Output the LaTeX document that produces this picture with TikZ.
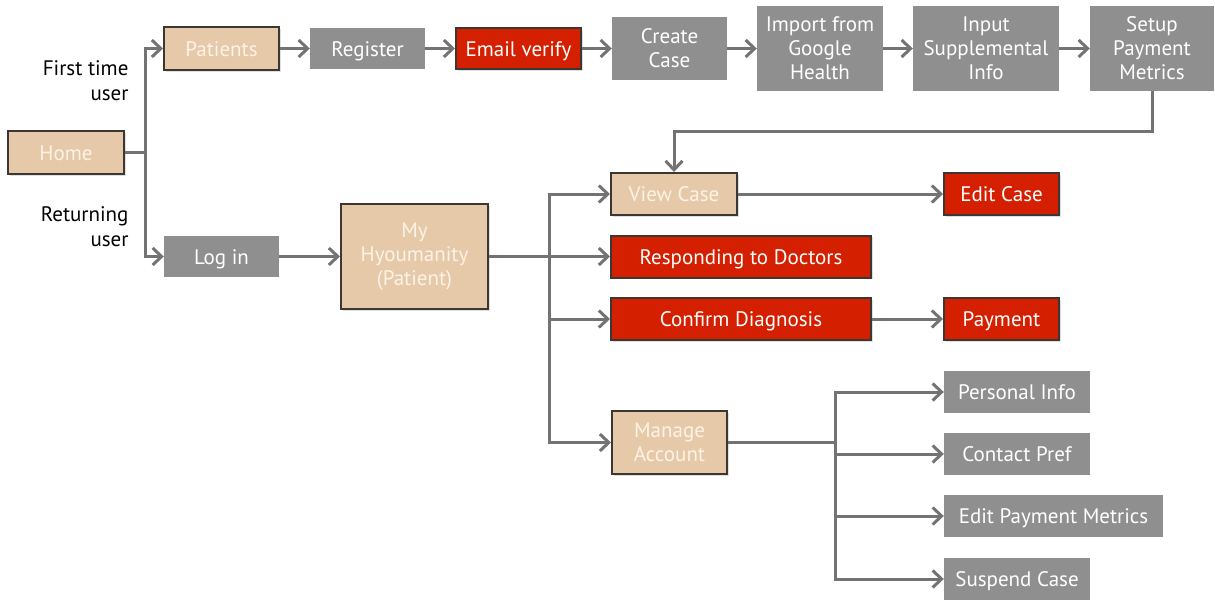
\documentclass[tikz,border=0pt]{standalone}
\usepackage{fontspec}
\setmainfont{PT Sans}
\usetikzlibrary{arrows.meta,shadows}
\definecolor{tanfill}{RGB}{230,201,168}
\definecolor{tantext}{RGB}{252,242,230}
\definecolor{redfill}{RGB}{212,32,0}
\definecolor{grayfill}{RGB}{143,143,143}
\definecolor{linegray}{RGB}{115,115,115}
\definecolor{edgedark}{RGB}{60,55,50}
\tikzset{
  base/.style={rectangle, inner sep=2pt, align=center, font=\fontsize{21}{24}\selectfont},
  oneline/.style={text height=15pt, text depth=0pt},
  tanbox/.style={base, fill=tanfill, draw=edgedark, line width=2pt, text=tantext,
    drop shadow={opacity=0.25, shadow xshift=1.5pt, shadow yshift=-1.5pt}},
  redbox/.style={base, fill=redfill, draw=edgedark, line width=2pt, text=white,
    drop shadow={opacity=0.25, shadow xshift=1.5pt, shadow yshift=-1.5pt}},
  graybox/.style={base, fill=grayfill, text=white},
  wire/.style={draw=linegray, line width=3pt},
  arr/.style={wire, -{Straight Barb[length=9pt,width=17pt,line width=3pt]}},
  lbl/.style={anchor=east, align=right, font=\fontsize{21}{25}\selectfont, text=black},
}
\begin{document}
\begin{tikzpicture}[x=1pt,y=-1pt]
\useasboundingbox (0,0) rectangle (1215,603);

% top row: sign-up flow
\node[tanbox, oneline, minimum width=116pt, minimum height=43pt] (home) at (66,152.5) {Home};
\node[tanbox, oneline, minimum width=115pt, minimum height=43pt] (patients) at (221.5,48.5) {Patients};
\node[graybox, oneline, minimum width=115pt, minimum height=41pt] (register) at (367.5,48.5) {Register};
\node[redbox, oneline, minimum width=125pt, minimum height=41pt] (email) at (518.5,48.5) {Email verify};
\node[graybox, minimum width=115pt, minimum height=63pt] (create) at (669.5,48.5) {Create\\Case};
\node[graybox, minimum width=126pt, minimum height=85pt] (import) at (820,48.5) {Import from\\Google\\Health};
\node[graybox, minimum width=146pt, minimum height=85pt] (input) at (986,48.5) {Input\\Supplemental\\Info};
\node[graybox, minimum width=124pt, minimum height=85pt] (setup) at (1152,48.5) {Setup\\Payment\\Metrics};

% returning user flow
\node[graybox, oneline, minimum width=115pt, minimum height=41pt] (login) at (221.5,256.5) {Log in};
\node[tanbox, minimum width=147pt, minimum height=105pt] (myh) at (414.5,256.5) {My\\Hyoumanity\\(Patient)};
\node[tanbox, oneline, minimum width=126pt, minimum height=42pt] (view) at (674,194) {View Case};
\node[redbox, oneline, minimum width=115pt, minimum height=42pt] (edit) at (1001.5,194) {Edit Case};
\node[redbox, oneline, minimum width=260pt, minimum height=42pt] (resp) at (741,256.5) {Responding to Doctors};
\node[redbox, oneline, minimum width=260pt, minimum height=42pt] (confirm) at (741,319) {Confirm Diagnosis};
\node[redbox, oneline, minimum width=115pt, minimum height=42pt] (payment) at (1001.5,319) {Payment};
\node[tanbox, minimum width=115pt, minimum height=63pt] (manage) at (669.5,442.5) {Manage\\Account};

% account settings
\node[graybox, oneline, minimum width=146pt, minimum height=42pt] (personal) at (1017,392) {Personal Info};
\node[graybox, oneline, minimum width=146pt, minimum height=42pt] (contact) at (1017,454) {Contact Pref};
\node[graybox, oneline, minimum width=219pt, minimum height=42pt] (editpm) at (1053.5,516) {Edit Payment Metrics};
\node[graybox, oneline, minimum width=146pt, minimum height=42pt] (suspend) at (1017,579) {Suspend Case};

% branch labels
\node[lbl] (first) at (132,81) {First time\\user};
\node[lbl] (returning) at (132,227) {Returning\\user};

% connectors from Home
\coordinate (hb) at (145,152.5);
\draw[wire] (home.east) -- (hb);
\draw[arr] (hb) |- (patients.west);
\draw[arr] (hb) |- (login.west);

% sign-up chain
\draw[arr] (patients) -- (register);
\draw[arr] (register) -- (email);
\draw[arr] (email) -- (create);
\draw[arr] (create) -- (import);
\draw[arr] (import) -- (input);
\draw[arr] (input) -- (setup);
\draw[arr] (setup.south) -- ++(0,40) -| (view.north);

% dashboard branches
\draw[arr] (login) -- (myh);
\coordinate (mb) at (549,256.5);
\draw[arr] (myh.east) -- (resp.west);
\draw[arr] (mb) |- (view.west);
\draw[arr] (mb) |- (confirm.west);
\draw[arr] (mb) |- (manage.west);
\draw[arr] (view) -- (edit);
\draw[arr] (confirm) -- (payment);

% account branches
\coordinate (ab) at (835,442.5);
\draw[wire] (manage.east) -- (ab);
\draw[arr] (ab) |- (personal.west);
\draw[arr] (ab) |- (contact.west);
\draw[arr] (ab) |- (editpm.west);
\draw[arr] (ab) |- (suspend.west);
\end{tikzpicture}
\end{document}
